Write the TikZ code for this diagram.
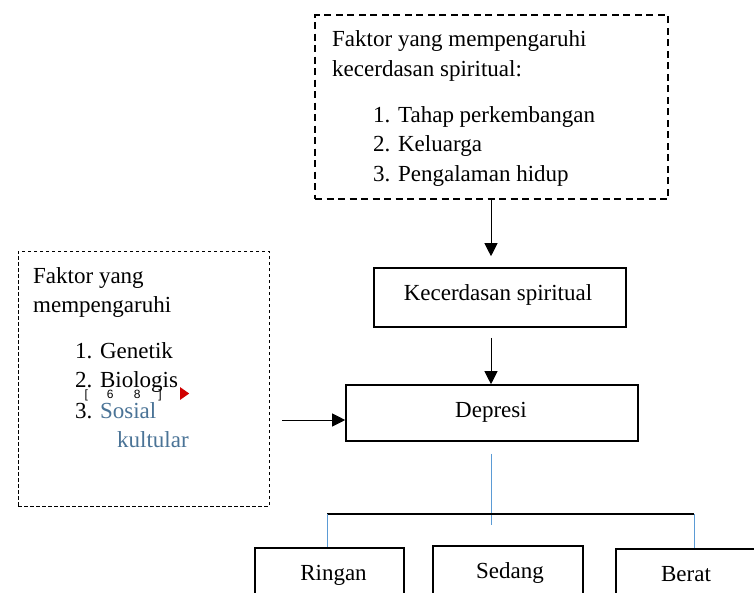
\documentclass[tikz,border=0pt]{standalone}
\usepackage{fontspec}
\setmainfont{Liberation Serif}
\setsansfont{Liberation Sans}
\usetikzlibrary{arrows.meta,shapes.geometric}
\definecolor{linkblue}{HTML}{5B9BD5}
\definecolor{softblue}{HTML}{4A7396}
\definecolor{markred}{HTML}{D00000}
\tikzset{
  txt/.style={anchor=base west, inner sep=0pt, font=\fontsize{23}{28}\selectfont},
  ctxt/.style={anchor=base, inner sep=0pt, font=\fontsize{23}{28}\selectfont},
  solidbox/.style={draw, line width=1.6pt, inner sep=0pt},
  thickdash/.style={draw, line width=1.7pt, dash pattern=on 7pt off 4.5pt, inner sep=0pt},
  thindash/.style={draw, line width=0.8pt, dash pattern=on 3.5pt off 2.5pt, inner sep=0pt},
  arr/.style={line width=1pt, -{Triangle[width=13pt,length=13pt]}},
  bluel/.style={draw=linkblue, line width=1pt},
}
\begin{document}
\begin{tikzpicture}[x=1pt,y=-1pt]
\useasboundingbox (0,0) rectangle (754,592);
% boxes
\node[thickdash, minimum width=353pt, minimum height=184pt] (faktorks) at (491.5,107) {};
\node[thindash, minimum width=251pt, minimum height=255pt] (faktordep) at (143.5,378.5) {};
\node[solidbox, minimum width=252pt, minimum height=59pt] (ks) at (500,297.5) {};
\node[solidbox, minimum width=292pt, minimum height=56pt] (dep) at (492,413) {};
\node[solidbox, minimum width=149pt, minimum height=72pt] (ringan) at (329.5,584) {};
\node[solidbox, minimum width=150pt, minimum height=74pt] (sedang) at (508,583) {};
\node[solidbox, minimum width=154pt, minimum height=71pt] (berat) at (693,584.5) {};
% texts top box
\node[txt] (t1) at (332,46.5) {Faktor yang mempengaruhi};
\node[txt] (t2) at (332,76) {kecerdasan spiritual:};
\node[txt] (t3) at (373,122.5) {1. Tahap perkembangan};
\node[txt] (t4) at (373,151.5) {2. Keluarga};
\node[txt] (t5) at (373,181.5) {3. Pengalaman hidup};
% texts left box
\node[txt] (l1) at (33,283) {Faktor yang};
\node[txt] (l2) at (33,312) {mempengaruhi};
\node[txt] (l3) at (75,358) {1. Genetik};
\node[txt] (l4) at (75,387) {2. Biologis};
\node[txt] (l5) at (75,418) {3. \textcolor{softblue}{Sosial}};
\node[txt, text=softblue] (l6) at (117,447) {kultular};
\node[anchor=base west, inner sep=0pt, font=\sffamily\fontsize{12}{13}\selectfont] (mk) at (84.3,398.5) {[\hspace{19pt}6\hspace{20.3pt}8\hspace{18pt}]};
\node[fill=markred, isosceles triangle, isosceles triangle apex angle=70, minimum width=9pt, minimum height=9pt, inner sep=0pt] (tri) at (183.5,393.5) {};
% main texts
\node[ctxt] (kst) at (498,300) {Kecerdasan spiritual};
\node[ctxt] (dept) at (491,417) {Depresi};
\node[ctxt] (rt) at (333.5,580) {Ringan};
\node[ctxt] (st) at (510,578) {Sedang};
\node[ctxt] (bt) at (686,581) {Berat};
% connectors
\draw[arr, shorten >=11pt] (faktorks.south -| 491,0) -- (ks.north -| 491,0);
\draw[arr, shorten <=10pt] (ks.south -| 491,0) -- (dep.north -| 491,0);
\draw[arr, shorten <=13pt] (faktordep.east |- 0,420) -- (dep.west |- 0,420);
\coordinate (hl) at (327,514);
\coordinate (hr) at (694,514);
\coordinate (hm) at (491,525);
\draw[bluel, shorten <=12pt] (dep.south -| 491,0) -- (hm);
\draw[line width=1.1pt] (hl) -- (hr);
\draw[bluel] (hl) -- (ringan.north -| hl);
\draw[bluel] (hr) -- (berat.north -| hr);
\end{tikzpicture}
\end{document}
